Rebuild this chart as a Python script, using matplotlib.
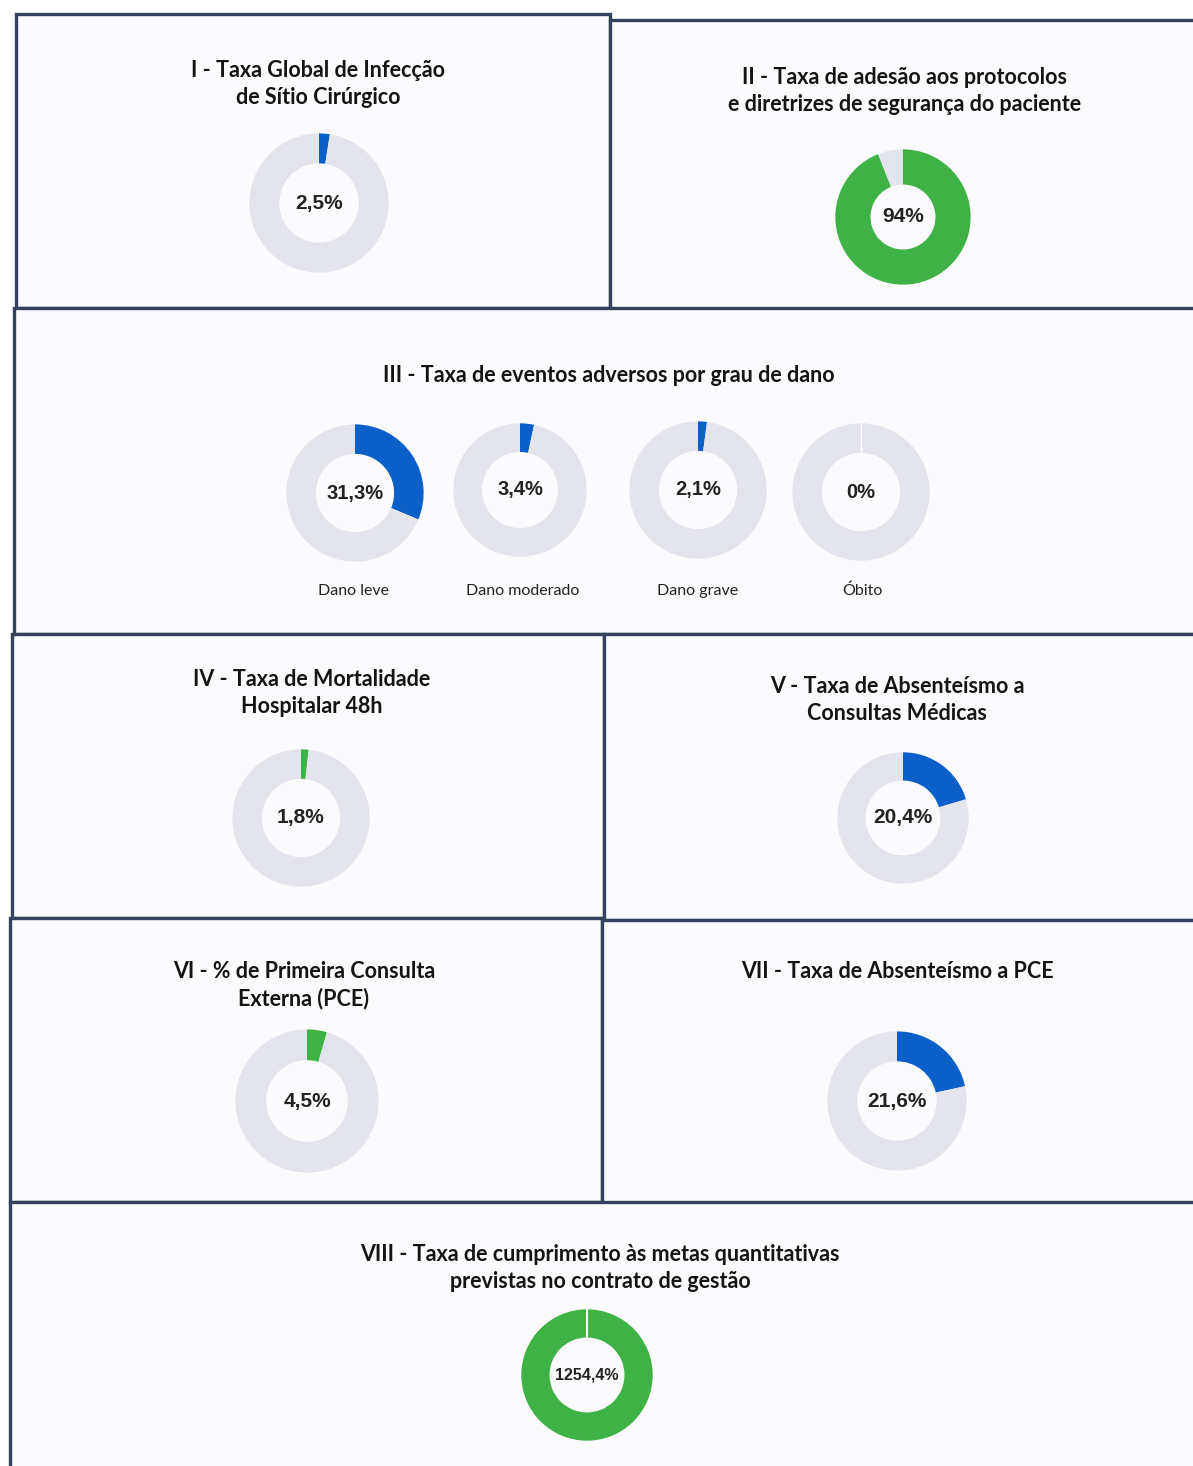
import numpy as np
import matplotlib.pyplot as plt
from matplotlib.patches import Rectangle

# indicator data
titles = [
    "I - Taxa Global de Infecção\nde Sítio Cirúrgico",
    "II - Taxa de adesão aos protocolos\ne diretrizes de segurança do paciente",
    "III - Taxa de eventos adversos por grau de dano",
    "IV - Taxa de Mortalidade\nHospitalar 48h",
    "V - Taxa de Absenteísmo a\nConsultas Médicas",
    "VI - % de Primeira Consulta\nExterna (PCE)",
    "VII - Taxa de Absenteísmo a PCE",
    "VIII - Taxa de cumprimento às metas quantitativas\nprevistas no contrato de gestão",
]
dano_labels = ["Dano leve", "Dano moderado", "Dano grave", "Óbito"]
values = [2.5, 94, 31.3, 3.4, 2.1, 0, 1.8, 20.4, 4.5, 21.6, 1254.4]
kinds = ["blue", "green", "blue", "blue", "blue", "blue", "green", "blue", "green", "blue", "green"]

BLUE = "#0b5fc9"
GREEN = "#3fb246"
GREY = "#e3e4ec"
BORDER = "#34425f"

W, H = 1193, 1466
fig = plt.figure(figsize=(W / 100, H / 100), dpi=100)
bg = fig.add_axes([0, 0, 1, 1])
bg.set_xlim(0, W)
bg.set_ylim(H, 0)
bg.axis("off")

# boxes (x0, y0, x1, y1) in pixels
boxes = [(16, 14, 610, 308), (610, 20, 1200, 316),
         (14, 308, 1200, 634),
         (12, 634, 604, 918), (604, 634, 1200, 920),
         (10, 918, 602, 1202), (602, 920, 1200, 1204),
         (10, 1202, 1200, 1475)]
for x0, y0, x1, y1 in boxes:
    bg.add_patch(Rectangle((x0, y0), x1 - x0, y1 - y0, facecolor="#fbfbfd",
                           edgecolor=BORDER, lw=2.4))

title_pos = [(318, 84), (905, 91), (609, 375), (312, 693), (897, 700),
             (304, 985), (897, 972), (600, 1268)]
for t, (x, y) in zip(titles, title_pos):
    bg.text(x, y, t, ha="center", va="center", fontsize=15.5, family="Lato",
            fontweight="bold", color="#141414", linespacing=1.35)

for lab, x in zip(dano_labels, [353, 523, 698, 862]):
    bg.text(x, 591, lab, ha="center", va="center", fontsize=11.5, family="Lato",
            color="#222222")

# donut placement: centre x, centre y, outer radius px, hole ratio, font size
donuts = [(319, 203, 71, 0.57, 15), (903, 217, 69, 0.48, 15),
          (355, 493, 70, 0.57, 14.5), (520, 490, 68, 0.57, 14.5),
          (698, 490, 70, 0.57, 14.5), (861, 492, 70, 0.57, 14.5),
          (301, 818, 70, 0.57, 15), (903, 818, 67, 0.57, 15),
          (307, 1101, 73, 0.57, 15), (897, 1101, 71, 0.57, 15),
          (587, 1375, 67, 0.57, 11.5)]

for v, k, (cx, cy, r, hole, fs) in zip(values, kinds, donuts):
    ax = fig.add_axes([(cx - r) / W, 1 - (cy + r) / H, 2 * r / W, 2 * r / H])
    col = BLUE if k == "blue" else GREEN
    frac = min(v, 100)
    ax.pie([frac, 100 - frac], colors=[col, GREY], startangle=90,
           counterclock=False, radius=1,
           wedgeprops=dict(width=1 - hole, edgecolor="none"))
    if v >= 100:
        ax.plot([0, 0], [hole, 1], color="white", lw=1.5)
    if v == 0:
        ax.plot([0, 0], [hole, 1], color="white", lw=1)
    ax.set_xlim(-1.02, 1.02)
    ax.set_ylim(-1.02, 1.02)
    ax.set_aspect("equal")
    ax.axis("off")
    txt = f"{v:g}".replace(".", ",") + "%"
    ax.text(0, 0, txt, ha="center", va="center", fontsize=fs,
            family="Liberation Sans", fontweight="bold", color="#222222")

fig.savefig("out.png", dpi=100)
